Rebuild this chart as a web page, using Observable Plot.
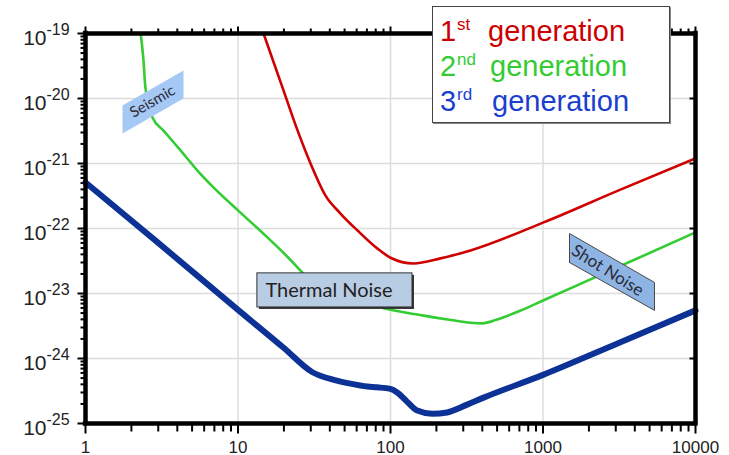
<!DOCTYPE html>
<html>
<head>
<meta charset="utf-8">
<script src="https://cdn.jsdelivr.net/npm/d3@7"></script>
<script src="https://cdn.jsdelivr.net/npm/@observablehq/plot@0.6"></script>
<style>
  html, body { margin: 0; padding: 0; background: #fff; }
  #wrap { position: relative; width: 729px; height: 455px; font-family: "Liberation Sans", Arial, sans-serif; }
  #legend { position: absolute; left: 432px; top: 6px; width: 236px; height: 115px; background: #fff;
            border: 1px solid #444; box-shadow: 1px 1px 0 #888; }
  #legend .row { position: absolute; left: 0; height: 35px; font-size: 29px; line-height: 35px; white-space: nowrap; }
  #legend .num { position: absolute; left: 7px; top: 0; }
  #legend .sup { position: absolute; left: 24px; top: -7px; font-size: 17px; }
  #legend .gen { position: absolute; top: 0; }
</style>
</head>
<body>
<div id="wrap"></div>
<script>
// ---- data ----
const freq1 = [14.7, 19.9, 24.6, 29.9, 37.5, 47, 60.8, 82.2, 100, 141.5, 212.8, 334.6, 1000, 3162, 10000];
const strain1 = [1.0e-19, 1.32e-20, 3.2e-21, 1.0e-21, 3.2e-22, 1.7e-22, 9.3e-23, 4.9e-23, 3.55e-23, 2.9e-23, 3.47e-23, 4.6e-23, 1.23e-22, 3.9e-22, 1.2e-21];

const freq2 = [2.3, 2.4, 2.47, 2.75, 3.25, 4.2, 5.42, 6.9, 10, 14.7, 21.4, 26.8, 47, 82, 165, 250, 335, 400, 500, 700, 1000, 3162, 10000];
const strain2 = [1.0e-19, 3.85e-20, 1.48e-20, 5.1e-21, 3.2e-21, 1.59e-21, 7.8e-22, 4.3e-22, 1.9e-22, 8.3e-23, 3.55e-23, 2.04e-23, 1.05e-23, 6.3e-24, 4.57e-24, 3.9e-24, 3.55e-24, 3.47e-24, 3.98e-24, 5.37e-24, 7.8e-24, 2.6e-23, 8.7e-23];

const freq3 = [1, 3, 10, 20, 30.6, 42.4, 54.6, 70.5, 81.8, 100, 110.6, 128.8, 149.8, 188, 235, 318, 408, 1000, 3162, 10000];
const strain3 = [5.1e-22, 6.0e-23, 5.6e-24, 1.45e-24, 6.2e-25, 4.7e-25, 4.1e-25, 3.7e-25, 3.6e-25, 3.4e-25, 3.0e-25, 2.15e-25, 1.58e-25, 1.41e-25, 1.48e-25, 1.95e-25, 2.5e-25, 5.6e-25, 1.75e-24, 5.5e-24];

const xTickValues = [1, 10, 100, 1000, 10000];
const yTickExponents = [-19, -20, -21, -22, -23, -24, -25];

// annotation shapes (data coordinates)
const seismicBoxF = [1.748, 1.748, 4.39, 4.39, 1.748];
const seismicBoxH = [2.9e-21, 7.8e-21, 2.7e-20, 1.0e-20, 2.9e-21];
const shotBoxF = [1492, 1492, 5383, 5383, 1492];
const shotBoxH = [3.0e-23, 8.38e-23, 1.48e-23, 5.5e-24, 3.0e-23];
const thermalBox = {f1: 13.4, f2: 139.4, h1: 2.04e-23, h2: 6.1e-24};
const labels = [
  {text: "Seismic", f: 2.75, h: 9.0e-21, rotate: -30, size: 15},
  {text: "Shot Noise", f: 2649, h: 2.26e-23, rotate: 32, size: 17}
];

// ---- tables ----
const toRows = (fs, hs) => fs.map((f, i) => ({f, h: hs[i]}));
const gen1 = toRows(freq1, strain1);
const gen2 = toRows(freq2, strain2);
const gen3 = toRows(freq3, strain3);
const seismicPoly = toRows(seismicBoxF, seismicBoxH);
const shotPoly = toRows(shotBoxF, shotBoxH);

const decadesX = [1, 10, 100, 1000];
const minorX = decadesX.flatMap(d => [2,3,4,5,6,7,8,9].map(k => d * k));
const decadesY = yTickExponents.map(e => Math.pow(10, e));
const minorY = yTickExponents.slice(1).flatMap(e => [2,3,4,5,6,7,8,9].map(k => k * Math.pow(10, e)));

const W = 729, H = 455, ML = 85, MR = 34, MT = 33, MB = 32;
const pxPerDecadeX = (W - ML - MR) / 4;   // 4 decades across
const pxPerDecadeY = (H - MT - MB) / 6;   // 6 decades up
const xMin = 1, xMax = 10000, yMin = 1e-25, yMax = 1e-19;
// tick end points (tick length in px converted to the log domain)
const outX = len => Math.pow(10, -len / pxPerDecadeX);
const outY = len => Math.pow(10, len / pxPerDecadeY);
const tickStyle = {stroke: "black", strokeWidth: 2, strokeLinecap: "butt"};

const font = "Liberation Sans, Arial, sans-serif";
const lato = "Lato, 'Open Sans', sans-serif";

const chart = Plot.plot({
  width: W,
  height: H,
  marginLeft: ML,
  marginRight: MR,
  marginTop: MT,
  marginBottom: MB,
  style: {background: "white", overflow: "visible"},
  x: {type: "log", domain: [xMin, xMax], axis: null},
  y: {type: "log", domain: [yMin, yMax], axis: null},
  marks: [
    // grid
    Plot.ruleX([10, 100, 1000], {stroke: "#dcdcdc", strokeWidth: 1.5}),
    Plot.ruleY(decadesY.slice(1, -1), {stroke: "#dcdcdc", strokeWidth: 1.5}),
    // tick marks
    Plot.link(minorX, {x1: d => d, x2: d => d, y1: () => yMin, y2: () => yMin / outY(8), ...tickStyle}),
    Plot.link(xTickValues, {x1: d => d, x2: d => d, y1: () => yMin, y2: () => yMin / outY(10), ...tickStyle}),
    Plot.link(minorX, {x1: d => d, x2: d => d, y1: () => yMax, y2: () => yMax * outY(5), ...tickStyle}),
    Plot.link(xTickValues, {x1: d => d, x2: d => d, y1: () => yMax, y2: () => yMax * outY(7), ...tickStyle}),
    Plot.link(minorY, {y1: d => d, y2: d => d, x1: () => xMin, x2: () => xMin * outX(5), ...tickStyle}),
    Plot.link(decadesY, {y1: d => d, y2: d => d, x1: () => xMin, x2: () => xMin * outX(8), ...tickStyle}),
    Plot.link(decadesY, {y1: d => d, y2: d => d, x1: () => xMax, x2: () => xMax * outX(6), ...tickStyle}),
    // curves
    Plot.line(gen1, {x: "f", y: "h", stroke: "#d00000", strokeWidth: 2.6, curve: "monotone-x"}),
    Plot.line(gen2, {x: "f", y: "h", stroke: "#33cc33", strokeWidth: 2.6, curve: "monotone-x"}),
    Plot.line(gen3, {x: "f", y: "h", stroke: "#0c3296", strokeWidth: 6, curve: "monotone-x"}),
    // frame
    Plot.ruleX([xMin, xMax], {stroke: "black", strokeWidth: 4.5, strokeLinecap: "square"}),
    Plot.ruleY([yMin, yMax], {stroke: "black", strokeWidth: 4.5, strokeLinecap: "square"}),
    // annotations
    Plot.line(seismicPoly, {x: "f", y: "h", fill: "#a6c8f4", stroke: "none", curve: "linear"}),
    Plot.line(shotPoly, {x: "f", y: "h", fill: "#8eb4e3", stroke: "#4a4a4a", strokeWidth: 1, curve: "linear"}),
    Plot.rect([thermalBox], {x1: "f1", x2: "f2", y1: "h1", y2: "h2", fill: "#333", dx: 2, dy: 2}),
    Plot.rect([thermalBox], {x1: "f1", x2: "f2", y1: "h1", y2: "h2", fill: "#b8cce4", stroke: "#333", strokeWidth: 1}),
    Plot.text([thermalBox], {x: "f1", y: d => Math.sqrt(d.h1 * d.h2), text: () => "Thermal Noise", textAnchor: "start", dx: 8, fontSize: 20, fontFamily: lato, fill: "#222"}),
    Plot.text(labels, {x: "f", y: "h", text: "text", rotate: "rotate", fontSize: d => d.size, fontFamily: lato, fill: "#2a2a35"}),
    // tick labels
    Plot.text(yTickExponents, {frameAnchor: "left", y: e => Math.pow(10, e), text: () => "10", textAnchor: "end", lineAnchor: "bottom", dx: -39, dy: 11, fontSize: 21, fontFamily: font, fill: "#222"}),
    Plot.text(yTickExponents, {frameAnchor: "left", y: e => Math.pow(10, e), text: e => String(e), textAnchor: "start", lineAnchor: "bottom", dx: -39, dy: 1, fontSize: 16, fontFamily: font, fill: "#222"}),
    Plot.text(xTickValues, {frameAnchor: "bottom", x: d => d, text: d => String(d), lineAnchor: "bottom", dy: 29, fontSize: 17, fontFamily: font, fill: "#222"})
  ]
});

const wrap = document.getElementById("wrap");
wrap.appendChild(chart);

// legend
const legendItems = [
  {num: "1", sup: "st", color: "#cc0000", genLeft: 55},
  {num: "2", sup: "nd", color: "#33cc33", genLeft: 57},
  {num: "3", sup: "rd", color: "#1a3fd0", genLeft: 59}
];
const legend = document.createElement("div");
legend.id = "legend";
legendItems.forEach((item, i) => {
  const row = document.createElement("div");
  row.className = "row";
  row.style.top = (7 + i * 35) + "px";
  row.style.color = item.color;
  row.innerHTML = `<span class="num">${item.num}</span><span class="sup">${item.sup}</span><span class="gen" style="left:${item.genLeft}px">generation</span>`;
  legend.appendChild(row);
});
wrap.appendChild(legend);
</script>
</body>
</html>
